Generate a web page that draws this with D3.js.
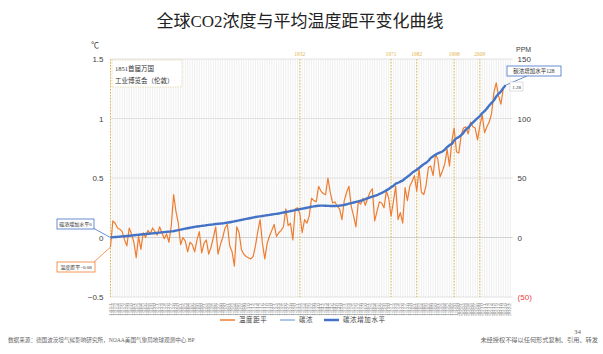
<!DOCTYPE html>
<html>
<head>
<meta charset="utf-8">
<script src="https://cdn.jsdelivr.net/npm/d3@7"></script>
<style>
  body { margin: 0; background: #fff; }
  svg { display: block; font-family: "Liberation Serif", "Noto Sans CJK SC", serif; }
</style>
</head>
<body>
<svg id="chart" width="603" height="354"></svg>
<script>
// data
const firstYear = 1851
const tempAnomaly = [
  -0.08, 0.14, 0.12, 0.08, 0.07, 0.05, -0.02, -0.07, 0.08, 0.03,      // 1851-1860
  -0.04, -0.17, 0.01, -0.10, 0.04, 0.00, 0.06, 0.03, 0.08, 0.05,      // 1861-1870
  0.02, 0.09, 0.04, -0.01, 0.03, -0.04, 0.10, 0.36, 0.22, 0.12,       // 1871-1880
  -0.06, 0.00, -0.03, -0.12, -0.04, -0.06, -0.12, -0.02, 0.05, -0.13, // 1881-1890
  -0.05, -0.02, -0.14, -0.08, 0.00, 0.09, -0.14, -0.06, 0.00, 0.08,   // 1891-1900
  0.11, -0.07, -0.12, -0.24, 0.09, 0.04, -0.10, -0.14, -0.16, -0.17,  // 1901-1910
  -0.18, -0.16, -0.07, 0.05, 0.15, -0.05, -0.18, -0.05, 0.01, 0.06,   // 1911-1920
  0.11, 0.01, 0.04, 0.06, 0.09, 0.24, 0.10, 0.12, -0.02, 0.24,        // 1921-1930
  0.25, 0.20, 0.04, 0.15, 0.12, 0.18, 0.33, 0.31, 0.30, 0.43,         // 1931-1940
  0.39, 0.37, 0.36, 0.50, 0.38, 0.29, 0.30, 0.26, 0.24, 0.15,         // 1941-1950
  0.31, 0.38, 0.43, 0.26, 0.18, 0.09, 0.30, 0.28, 0.33, 0.27,         // 1951-1960
  0.33, 0.38, 0.41, 0.14, 0.22, 0.30, 0.29, 0.25, 0.39, 0.33,         // 1961-1970
  0.18, 0.30, 0.43, 0.15, 0.21, 0.12, 0.42, 0.31, 0.43, 0.47,         // 1971-1980
  0.52, 0.39, 0.58, 0.38, 0.36, 0.44, 0.59, 0.60, 0.52, 0.70,         // 1981-1990
  0.66, 0.51, 0.56, 0.62, 0.74, 0.60, 0.81, 0.92, 0.72, 0.71,         // 1991-2000
  0.86, 0.92, 0.93, 0.87, 0.97, 0.93, 0.92, 0.82, 0.94, 1.03,         // 2001-2010
  0.88, 0.93, 0.97, 1.04, 1.22, 1.30, 1.19, 1.12, 1.25, 1.28          // 2011-2020
]
const co2Increase = [
  0, 0.2, 0.4, 0.5, 0.7, 0.9, 1.1, 1.3, 1.5, 1.7,
  1.9, 2.1, 2.3, 2.5, 2.7, 2.9, 3.1, 3.3, 3.5, 3.7,
  3.9, 4.1, 4.3, 4.5, 4.7, 4.9, 5.1, 5.4, 5.8, 6.2,
  6.6, 7.0, 7.4, 7.8, 8.2, 8.6, 8.9, 9.2, 9.5, 9.8,
  10.0, 10.3, 10.6, 10.8, 11.0, 11.3, 11.5, 11.7, 11.9, 12.2,
  12.5, 12.8, 13.2, 13.6, 14.0, 14.4, 14.8, 15.2, 15.6, 16.0,
  16.4, 16.8, 17.2, 17.5, 17.8, 18.1, 18.4, 18.7, 19.0, 19.3,
  19.6, 19.9, 20.2, 20.6, 21.0, 21.4, 21.8, 22.2, 22.6, 23.0,
  23.4, 23.8, 24.2, 24.6, 25.0, 25.4, 25.8, 26.2, 26.5, 26.7,
  26.8, 26.8, 26.7, 26.6, 26.5, 26.5, 26.5, 26.6, 26.8, 27.0,
  27.4, 27.9, 28.4, 28.9, 29.4, 29.9, 30.4, 30.9, 31.5, 32.3,
  33.0, 33.8, 34.4, 35.0, 35.6, 36.6, 37.5, 38.4, 39.6, 40.7,
  42.3, 43.4, 45.2, 46.0, 47.0, 48.0, 49.6, 51.1, 52.5, 54.3,
  55.6, 56.9, 58.5, 60.1, 61.6, 62.8, 64.5, 66.8, 68.3, 69.5,
  70.7, 71.5, 72.2, 73.9, 75.9, 77.6, 78.7, 81.6, 83.3, 84.4,
  86.0, 88.1, 90.6, 92.3, 94.6, 96.6, 98.5, 100.3, 102.1, 104.5,
  106.2, 108.4, 111.0, 113.1, 115.2, 118.5, 120.8, 122.7, 125.6, 128.0
]
const markYears = [1932, 1971, 1982, 1998, 2009]
const tempTicks = [-0.5, 0, 0.5, 1, 1.5]
const ppmTicks = [-50, 0, 50, 100, 150]
const axisYears = d3.range(1851, 2023)
const legendItems = [
  {name: "温度距平", color: "#ed7d31", width: 1.5},
  {name: "碳浓", color: "#8fb4e3", width: 1.5},
  {name: "碳浓增加水平", color: "#4472c4", width: 2.5}
]

const svg = d3.select("#chart")
const pLeft = 110.5, pRight = 512.6, pTop = 59, pBottom = 297

const x = d3.scaleLinear().domain([1851, 2023]).range([pLeft, pRight])
const yT = d3.scaleLinear().domain([-0.5, 1.5]).range([pBottom, pTop])
const yC = d3.scaleLinear().domain([-50, 150]).range([pBottom, pTop])

const temp = tempAnomaly.map((v, i) => ({year: firstYear + i, v}))
const co2 = co2Increase.map((v, i) => ({year: firstYear + i, v}))

// title
svg.append("text")
  .attr("x", 300).attr("y", 27)
  .attr("text-anchor", "middle")
  .attr("font-size", 17).attr("fill", "#222")
  .text("全球CO2浓度与平均温度距平变化曲线")

// vertical year grid
svg.append("g").selectAll("line")
  .data(axisYears)
  .join("line")
    .attr("x1", d => x(d)).attr("x2", d => x(d))
    .attr("y1", pTop).attr("y2", pBottom)
    .attr("stroke", "#e4e4e4").attr("stroke-width", 0.6)

// horizontal grid
svg.append("g").selectAll("line")
  .data(tempTicks)
  .join("line")
    .attr("x1", pLeft).attr("x2", pRight)
    .attr("y1", d => yT(d)).attr("y2", d => yT(d))
    .attr("stroke", d => d === 0 ? "#c8c8c8" : "#dadada").attr("stroke-width", 0.8)

// axes
const axL = svg.append("g")
  .attr("transform", `translate(${pLeft},0)`)
  .call(d3.axisLeft(yT).tickValues(tempTicks).tickSize(0).tickPadding(7).tickFormat(d3.format("")))
axL.select(".domain").remove()
axL.selectAll("text").attr("font-size", 8).attr("fill", "#404040").attr("font-family", null)

const axR = svg.append("g")
  .attr("transform", `translate(${pRight},0)`)
  .call(d3.axisRight(yC).tickValues(ppmTicks).tickSize(0).tickPadding(5)
    .tickFormat(d => d < 0 ? `(${-d})` : d))
axR.select(".domain").remove()
axR.selectAll("text").attr("font-size", 8).attr("font-family", null)
  .attr("fill", d => d < 0 ? "#e8413c" : "#404040")

svg.append("text").attr("x", 91).attr("y", 48).attr("font-size", 8).attr("fill", "#404040").text("℃")
svg.append("text").attr("x", 516).attr("y", 52).attr("font-size", 7).attr("fill", "#404040")
  .attr("font-family", "Liberation Sans, sans-serif").text("PPM")

// year labels
svg.append("g").selectAll("text")
  .data(axisYears)
  .join("text")
    .attr("transform", d => `translate(${x(d) + 1.2},316) rotate(-90)`)
    .attr("font-size", 3.4).attr("fill", "#8a8a8a")
    .attr("textLength", 13).attr("lengthAdjust", "spacingAndGlyphs")
    .text(d => d)

// event markers
const gold = "#e2b64a"
svg.append("line")
  .attr("x1", x(1851)).attr("x2", x(1851)).attr("y1", pTop).attr("y2", pBottom)
  .attr("stroke", gold).attr("stroke-width", 1).attr("stroke-dasharray", "1.5,1.5")
const marks = svg.append("g").selectAll("g").data(markYears).join("g")
marks.append("line")
  .attr("x1", d => x(d)).attr("x2", d => x(d)).attr("y1", pTop).attr("y2", pBottom)
  .attr("stroke", gold).attr("stroke-width", 1).attr("stroke-dasharray", "1.5,1.5")
marks.append("text")
  .attr("x", d => x(d)).attr("y", 56)
  .attr("text-anchor", "middle").attr("font-size", 5.5).attr("fill", gold)
  .text(d => d)

// 1851 box
svg.append("rect")
  .attr("x", 112).attr("y", 60).attr("width", 70).attr("height", 27)
  .attr("fill", "#fff").attr("stroke", "#e6d6a8").attr("stroke-width", 0.8).attr("stroke-dasharray", "1.5,1")
svg.append("text").attr("x", 115).attr("y", 71).attr("font-size", 6.5).attr("fill", "#333").text("1851首届万国")
svg.append("text").attr("x", 115).attr("y", 83).attr("font-size", 6.5).attr("fill", "#333").text("工业博览会（伦敦）")

// lines
svg.append("path")
  .datum(temp)
  .attr("fill", "none").attr("stroke", "#ed7d31").attr("stroke-width", 1.2).attr("stroke-linejoin", "round")
  .attr("d", d3.line().x(d => x(d.year)).y(d => yT(d.v)))

svg.append("path")
  .datum(co2)
  .attr("fill", "none").attr("stroke", "#4472c4").attr("stroke-width", 2.4).attr("stroke-linejoin", "round")
  .attr("d", d3.line().x(d => x(d.year)).y(d => yC(d.v)).curve(d3.curveMonotoneX))

// callouts
function callout(bx, by, bw, bh, txt, color, px, py, lx, ly, fs) {
  svg.append("line").attr("x1", lx).attr("y1", ly).attr("x2", px).attr("y2", py)
    .attr("stroke", color).attr("stroke-width", 0.8)
  svg.append("rect").attr("x", bx).attr("y", by).attr("width", bw).attr("height", bh)
    .attr("fill", "#fff").attr("stroke", color).attr("stroke-width", 0.8)
  svg.append("text").attr("x", bx + bw / 2).attr("y", by + bh / 2 + 2)
    .attr("text-anchor", "middle").attr("font-size", fs).attr("fill", "#333").text(txt)
}
const first = co2[0], lastC = co2[co2.length - 1], firstT = temp[0], lastT = temp[temp.length - 1]
callout(57, 219, 37, 10, "碳浓增加水平" + first.v, "#4472c4", x(first.year), yC(first.v), 93, 228, 5)
callout(57, 262, 38, 10, "温度距平" + d3.format(".2f")(firstT.v), "#ed7d31", x(firstT.year), yT(firstT.v), 93, 263, 5)
callout(507, 66, 54, 10, "碳浓增加水平" + lastC.v, "#4472c4", x(lastC.year), yC(lastC.v), 527, 76, 5.5)
svg.append("rect").attr("x", 510).attr("y", 82).attr("width", 13).attr("height", 9)
  .attr("fill", "#fff").attr("stroke", "#c8c8c8").attr("stroke-width", 0.6)
svg.append("text").attr("x", 516.5).attr("y", 88.7).attr("text-anchor", "middle")
  .attr("font-size", 5).attr("fill", "#333").text(d3.format(".2f")(lastT.v))

// legend
const lg = svg.append("g").selectAll("g").data(legendItems).join("g")
  .attr("transform", (d, i) => `translate(${[220, 280, 324][i]},320)`)
lg.append("line").attr("x1", 0).attr("x2", 15).attr("y1", 0).attr("y2", 0)
  .attr("stroke", d => d.color).attr("stroke-width", d => d.width)
lg.append("text").attr("x", 19).attr("y", 2.3).attr("font-size", 6.5).attr("fill", "#404040")
  .attr("letter-spacing", 0.6).text(d => d.name)

// footer
svg.append("text").attr("x", 8).attr("y", 342).attr("font-size", 5.6).attr("fill", "#666")
  .text("数据来源：德国波茨坦气候影响研究所，NOAA美国气象局地球观测中心 BP")
svg.append("text").attr("x", 598).attr("y", 342).attr("text-anchor", "end").attr("font-size", 6.2).attr("fill", "#666")
  .text("未经授权不得以任何形式复制、引用、转发")
svg.append("text").attr("x", 574).attr("y", 334).attr("font-size", 7).attr("fill", "#666").text("34")
</script>
</body>
</html>
